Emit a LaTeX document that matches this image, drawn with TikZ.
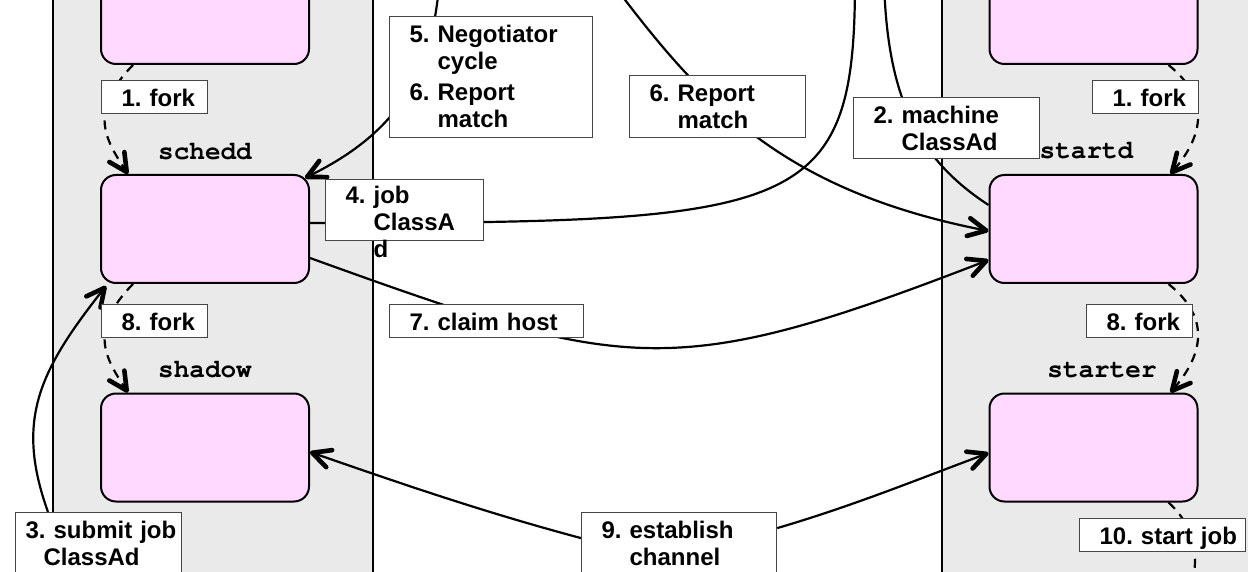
\documentclass[tikz,border=0pt]{standalone}
\usepackage[T1]{fontenc}
\usepackage{fontspec}
\setmainfont{Liberation Sans}
\setmonofont{Liberation Mono}
\usepackage{tikz}
\usetikzlibrary{calc,arrows.meta}
\usepackage{xcolor}
\definecolor{colgray}{RGB}{234,234,234}
\definecolor{procpink}{RGB}{255,217,255}
\definecolor{msggray}{RGB}{70,70,70}
\pgfdeclarelayer{bg}
\pgfsetlayers{bg,main}
\frenchspacing
\newcommand{\msgtext}[1]{\begin{tabular}[t]{@{}l@{\ }l@{}}#1\end{tabular}}
\newcommand{\courierbf}{\fontencoding{T1}\fontfamily{pcr}\fontseries{b}\fontshape{n}\fontsize{13}{15}\selectfont}

\tikzset{
  proc/.style={draw, line width=1pt, fill=procpink, rounded corners=7.5pt,
    minimum width=104pt, minimum height=54pt, inner sep=0pt},
  procname/.style={anchor=base, font=\courierbf},
  msg/.style={draw=msggray, line width=0.6pt, fill=white, anchor=north west,
    inner xsep=10pt, inner ysep=0pt, align=left, text height=13pt,
    font=\fontsize{12}{13.5}\selectfont\bfseries},
  wire/.style={line width=1.1pt},
  tipped/.style={wire, -{Straight Barb[length=9pt,width=9pt,line width=2.3pt 0 1,round]}},
  dashedwire/.style={wire, dash pattern=on 4.5pt off 3.5pt},
}

\begin{document}
\begin{tikzpicture}[x=0.5pt, y=-0.5pt]
  \useasboundingbox (0,0) rectangle (1248,572);
  \clip (0,0) rectangle (1248,572);

  % machines
  \begin{pgfonlayer}{bg}
    \fill[colgray] (53,0) rectangle (373,572);
    \fill[colgray] (942,0) rectangle (1248,572);
    \draw[line width=1pt] (53,0) -- (53,572) (373,0) -- (373,572) (942,0) -- (942,572);
  \end{pgfonlayer}

  % daemons
  \node[proc] (mastL) at (205,10) {};
  \node[proc] (schedd) at (205,229) {};
  \node[proc] (shadow) at (205,447.5) {};
  \node[proc] (mastR) at (1093.5,10) {};
  \node[proc] (startd) at (1093.5,229) {};
  \node[proc] (starter) at (1093.5,447.5) {};
  \node[procname] (scheddname) at (205,160) {schedd};
  \node[procname] (shadowname) at (205,378) {shadow};
  \node[procname] (startdname) at (1086.5,159) {startd};
  \node[procname] (startername) at (1102,378) {starter};

  % off-page ends
  \coordinate (negtop) at (440,-30);
  \coordinate (reptop) at (610,-20);
  \coordinate (coltop) at (855,-20);
  \coordinate (machtop) at (884,-20);
  \coordinate (jobend) at (1186,600);

  % step labels
  \node[msg, text width=33pt, text depth=3.5pt] (forkA) at (101,80) {\msgtext{1. & fork}};
  \node[msg, text width=81.5pt, text depth=47.5pt] (negot) at (389,16)
    {\msgtext{5. & Negotiator\\ & cycle\\[2pt] 6. & Report\\ & match}};
  \node[msg, text width=68pt, text depth=18pt] (report) at (629,75) {\msgtext{6. & Report\\ & match}};
  \node[msg, text width=73pt, text depth=17.5pt] (machad) at (853,97) {\msgtext{2. & machine\\ & ClassAd}};
  \node[msg, text width=33pt, text depth=3.5pt] (forkB) at (1092,80) {\msgtext{1. & fork}};
  \node[msg, text width=59pt, text height=12pt, text depth=18.5pt] (jobad) at (325,179)
    {\msgtext{4. & job\\ & ClassA\\ & d}};
  \node[msg, text width=33pt, text depth=3.5pt] (forkC) at (101,304) {\msgtext{8. & fork}};
  \node[msg, text width=77pt, text depth=3.5pt] (claim) at (389,304) {\msgtext{7. & claim host}};
  \node[msg, text width=33pt, text depth=3.5pt] (forkD) at (1086,304) {\msgtext{8. & fork}};
  \node[msg, inner xsep=5pt, text width=73pt, text depth=18pt] (submit) at (15,512)
    {\begin{tabular}[t]{@{}l@{}}3. submit job\\\hspace*{9pt}ClassAd\end{tabular}};
  \node[msg, text width=77.5pt, text depth=18pt] (estab) at (581,512) {\msgtext{9. & establish\\ & channel}};
  \node[msg, text width=63pt, text depth=3.5pt] (startjob) at (1079,518) {\msgtext{10. & start job}};

  \begin{pgfonlayer}{bg}
    % forks
    \draw[dashedwire, tipped] ([xshift=-36pt]mastL.south) .. controls +(-45,46) and +(-23,-35) .. ([xshift=-38.5pt]schedd.north);
    \draw[dashedwire, tipped] ([xshift=-36pt]schedd.south) .. controls +(-45,46) and +(-23,-35) .. ([xshift=-38.5pt]shadow.north);
    \draw[dashedwire, tipped] ([xshift=37.5pt]mastR.south) .. controls +(45,36) and +(30,-35) .. ([xshift=38.5pt]startd.north);
    \draw[dashedwire, tipped] ([xshift=37.5pt]startd.south) .. controls +(45,36) and +(30,-35) .. ([xshift=38.5pt]starter.north);
    \draw[dashedwire] ([xshift=37.5pt]starter.south) .. controls +(31.5,28) and +(14,-30) .. (jobend);
    % classads and matchmaking
    \draw[wire] ([yshift=3pt]schedd.east) .. controls +(491,0) and +(0,235) .. (coltop);
    \draw[wire] ([yshift=12pt]startd.west) .. controls +(-69,-45) and +(3,120) .. (machtop);
    \draw[tipped] (negtop) .. controls +(-5,110) and +(87,-43) .. ([xshift=-2.5pt,yshift=-2pt]schedd.north east);
    \draw[tipped] (reptop) .. controls +(90,120) and +(-209,-41) .. ([yshift=-1pt]startd.west);
    \draw[tipped] ([xshift=16.5pt]submit.north west) .. controls +(-33,-92) and +(-67,85) .. ([xshift=3pt,yshift=-1pt]schedd.south west);
    % claiming
    \draw[tipped] ([yshift=-14.5pt]schedd.east) .. controls +(316,114) and +(-318,123) .. ([yshift=-15.5pt]startd.west);
    \draw[tipped] ([yshift=2.75pt]estab.west) .. controls +(-97,-26) and +(95,33) .. ([yshift=-2.25pt]shadow.east);
    \draw[tipped] ([yshift=7.75pt]estab.east) .. controls +(75,-22) and +(-75,28) .. ([yshift=-2.75pt]starter.west);
  \end{pgfonlayer}
\end{tikzpicture}
\end{document}
